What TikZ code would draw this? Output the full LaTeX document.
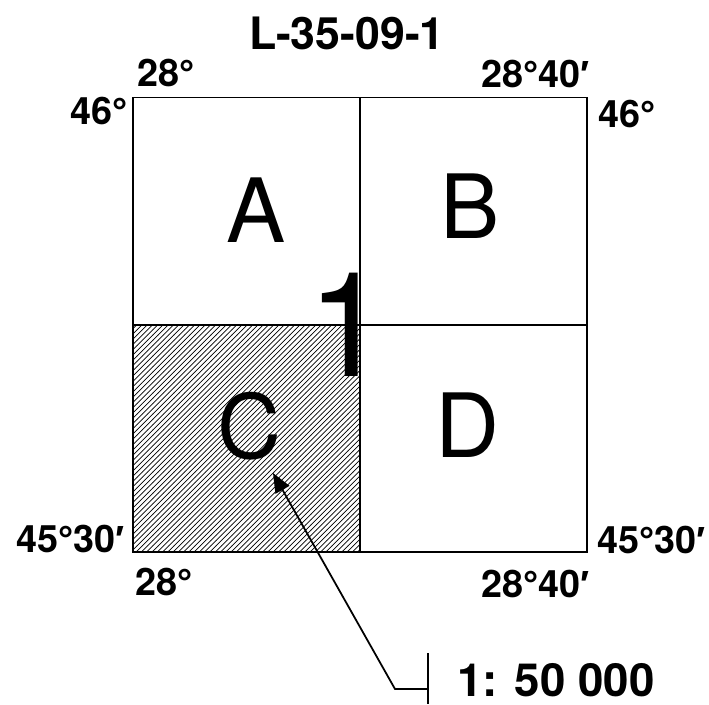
\documentclass[tikz,border=0pt]{standalone}
\usepackage{fontspec}
\setmainfont{TeX Gyre Heros}
\newfontfamily\primefont{Liberation Sans}
\newcommand{\prm}{{\primefont ′}}
\newcommand{\dg}{{\primefont °}}
\usetikzlibrary{positioning,patterns,arrows.meta}

\begin{document}
\begin{tikzpicture}[
    x=0.02cm, y=-0.02cm,
    cell/.style={
        rectangle,
        draw=black,
        line width=1pt,
        minimum size=4.54cm,
        inner sep=0pt
    },
    letter/.style={inner sep=0pt, font=\fontsize{50.5}{51}\selectfont},
    coord/.style={inner sep=0pt, font=\bfseries\fontsize{21.5}{22}\selectfont},
    leader/.style={line width=1pt, black}
]
    \useasboundingbox (0,0) rectangle (709,704);

    % Sheet cells
    \node[cell, label={[letter, xshift=0.19cm, yshift=0.02cm]center:A}] (cA) at (246.5,211) {};
    \node[cell, label={[letter, xshift=-0.07cm, yshift=0.1cm]center:B}] (cB) at (473.5,211) {};
    \node[cell, pattern=north east lines, label={[letter, xshift=0.07cm, yshift=0.25cm]center:C}] (cC) at (246.5,438.5) {};
    \node[cell, label={[letter, xshift=-0.11cm, yshift=0.27cm]center:D}] (cD) at (473.5,438.5) {};

    % Sheet number
    \node[inner sep=0pt, font=\fontsize{83}{83}\selectfont] (num) at (348,325) {1};

    % Title
    \node[inner sep=0pt, anchor=base, font=\bfseries\fontsize{25.4}{26}\selectfont] (title) at (347,49) {L-35-09-1};

    % Corner coordinates
    \node[coord, anchor=base west] (lonTL) at (137,86) {28\dg};
    \node[coord, anchor=base east] (lonTR) at (590,87) {28\dg40\prm};
    \node[coord, anchor=base east] (latTL) at (128,124) {46\dg};
    \node[coord, anchor=base west] (latTR) at (598,127) {46\dg};
    \node[coord, anchor=base east] (latBL) at (125,552) {45\dg30\prm};
    \node[coord, anchor=base west] (latBR) at (597,553) {45\dg30\prm};
    \node[coord, anchor=base west] (lonBL) at (135,595) {28\dg};
    \node[coord, anchor=base east] (lonBR) at (590,597) {28\dg40\prm};

    % Scale leader
    \node[inner sep=0pt, anchor=base west, font=\bfseries\fontsize{26}{27}\selectfont] (scale) at (457,696) {1: 50 000};
    \coordinate (tip) at (273,473);
    \coordinate (elbow) at (395,689);
    \coordinate (barTop) at (428,653);
    \coordinate (barBot) at (428,704);
    \draw[leader] (barTop) -- (barBot);
    \draw[leader, -{Triangle[length=11pt,width=9pt]}] (barTop |- elbow) -- (elbow) -- (tip);
\end{tikzpicture}
\end{document}
